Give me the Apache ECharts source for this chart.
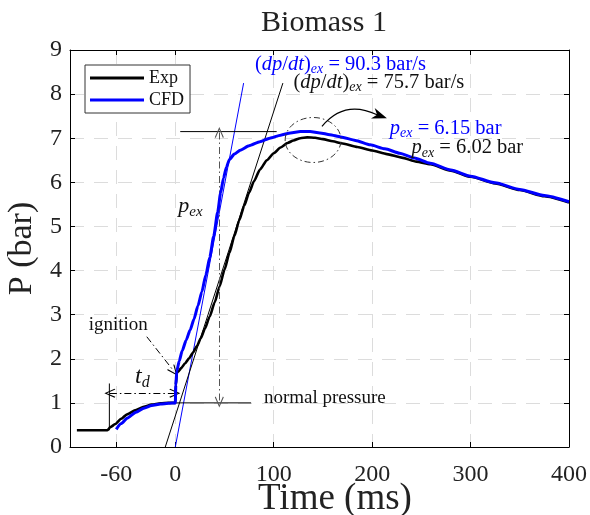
<!DOCTYPE html>
<html>
<head>
<meta charset="utf-8">
<script src="https://cdn.jsdelivr.net/npm/echarts@6/dist/echarts.min.js"></script>
<style>
  html, body { margin: 0; padding: 0; background: #fff; }
  #chart { width: 590px; height: 515px; }
</style>
</head>
<body>
<div id="chart"></div>
<script>
const SERIF = '"Liberation Serif", "DejaVu Serif", serif'

// measured pressure (Exp)
const expTime = [-100, -69, -66, -61, -55, -49, -40, -32, -24, -15, -7, 0, 0.5, 1.5, 3, 6, 10, 14, 18, 22, 26, 30, 35, 40, 45, 50, 55, 60, 65, 70, 75, 80, 86, 93, 100, 107, 114, 120, 127, 134, 142, 150, 160, 170, 185, 200, 215, 230, 245, 259, 280, 300, 325, 350, 375, 400]
const expP = [0.38, 0.38, 0.45, 0.52, 0.64, 0.74, 0.84, 0.91, 0.96, 0.99, 1.0, 1.0, 1.4, 1.68, 1.71, 1.79, 1.9, 2.01, 2.14, 2.29, 2.47, 2.68, 2.96, 3.28, 3.64, 4.02, 4.4, 4.78, 5.14, 5.47, 5.77, 6.03, 6.29, 6.5, 6.66, 6.79, 6.89, 6.95, 7.0, 7.02, 7.01, 6.98, 6.93, 6.88, 6.8, 6.72, 6.64, 6.56, 6.47, 6.41, 6.265, 6.125, 5.975, 5.825, 5.685, 5.545]

// simulated pressure (CFD)
const cfdTime = [-60, -55, -49, -40, -32, -24, -15, -7, 0, 0.5, 1.5, 4, 7, 11, 15, 19, 23, 27, 31, 35, 39, 43, 46, 49, 52, 55, 60, 66, 75, 86, 96, 107, 117, 127, 137, 147, 157, 168, 183, 198, 213, 228, 243, 259, 280, 300, 325, 350, 375, 400]
const cfdP = [0.4, 0.53, 0.65, 0.79, 0.88, 0.94, 0.975, 0.99, 1.0, 1.4, 1.72, 1.95, 2.18, 2.42, 2.65, 2.9, 3.2, 3.52, 3.9, 4.3, 4.78, 5.32, 5.76, 6.1, 6.35, 6.52, 6.64, 6.73, 6.83, 6.92, 7.0, 7.07, 7.12, 7.15, 7.15, 7.12, 7.08, 7.03, 6.95, 6.85, 6.76, 6.66, 6.55, 6.43, 6.28, 6.14, 5.99, 5.84, 5.7, 5.56]

// max-slope tangents
const cfdTangentT = [0, 69.4]
const cfdTangentP = [0, 8.25]
const expTangentT = [-10.2, 109.3]
const expTangentP = [0, 8.25]

const xTicks = [-60, 0, 100, 200, 300, 400]
const xMin = -107
const xMax = 400
const yMax = 9

const pairs = (xs, ys) => xs.map((x, i) => [x, ys[i]])

// open arrow head
const VEE = 'path://M0,10 L5,0 L10,10 L9,10.8 L5,2.4 L1,10.8 Z'

const seg = (name, t, p, color) => ({
  name,
  type: 'line',
  data: pairs(t, p),
  symbol: 'none',
  silent: true,
  lineStyle: { color, width: 1 },
  z: 3,
})

const boxAxisLine = { show: true, onZero: false, lineStyle: { color: '#000', width: 1 } }
const gridDash = { show: true, lineStyle: { color: '#dcdcdc', type: [14, 10], width: 1 } }

const chart = echarts.init(document.getElementById('chart'))

const option = {
  animation: false,
  backgroundColor: '#fff',
  title: {
    text: 'Biomass 1',
    left: 319,
    top: 3,
    textAlign: 'center',
    textStyle: { fontFamily: SERIF, fontSize: 30, fontWeight: 'normal', color: '#222' },
  },
  grid: { left: 70, right: 21, top: 50, bottom: 68, outerBoundsMode: 'none', containLabel: false },
  legend: {
    data: ['Exp', 'CFD'],
    orient: 'vertical',
    left: 85,
    top: 65,
    icon: 'rect',
    itemWidth: 54,
    itemHeight: 3,
    itemGap: 4,
    padding: [4, 6, 4, 5],
    backgroundColor: '#fff',
    borderColor: '#333',
    borderWidth: 1,
    textStyle: { fontFamily: SERIF, fontSize: 18, color: '#111' },
  },
  xAxis: [
    {
      type: 'value',
      min: xMin,
      max: xMax,
      axisLine: boxAxisLine,
      axisTick: { inside: true, length: 5, customValues: xTicks, lineStyle: { color: '#000' } },
      axisLabel: { customValues: xTicks, margin: 16, fontFamily: SERIF, fontSize: 24, color: '#222' },
      splitLine: gridDash,
    },
    {
      type: 'value',
      position: 'top',
      min: xMin,
      max: xMax,
      axisLine: boxAxisLine,
      axisTick: { inside: true, length: 5, customValues: xTicks, lineStyle: { color: '#000' } },
      axisLabel: { show: false },
      splitLine: { show: false },
    },
  ],
  yAxis: [
    {
      type: 'value',
      min: 0,
      max: yMax,
      interval: 1,
      name: 'P (bar)',
      nameLocation: 'middle',
      nameGap: 28,
      nameTextStyle: { fontFamily: SERIF, fontSize: 34, color: '#222' },
      axisLine: boxAxisLine,
      axisTick: { show: true, inside: true, length: 5, lineStyle: { color: '#000' } },
      axisLabel: { margin: 8, fontFamily: SERIF, fontSize: 24, color: '#222' },
      splitLine: gridDash,
    },
    {
      type: 'value',
      position: 'right',
      min: 0,
      max: yMax,
      interval: 1,
      axisLine: boxAxisLine,
      axisTick: { show: true, inside: true, length: 5, lineStyle: { color: '#000' } },
      axisLabel: { show: false },
      splitLine: { show: false },
    },
  ],
  series: [
    {
      name: 'Exp',
      type: 'line',
      data: pairs(expTime, expP),
      symbol: 'none',
      smooth: 0.2,
      smoothMonotone: 'x',
      color: '#000',
      lineStyle: { color: '#000', width: 2.6 },
      z: 4,
    },
    {
      name: 'CFD',
      type: 'line',
      data: pairs(cfdTime, cfdP),
      symbol: 'none',
      smooth: 0.2,
      smoothMonotone: 'x',
      color: '#0000ff',
      lineStyle: { color: '#0000ff', width: 3 },
      z: 5,
    },
    seg('cfdTangent', cfdTangentT, cfdTangentP, '#0000ff'),
    {
      ...seg('expTangent', expTangentT, expTangentP, '#000'),
      markLine: {
        silent: true,
        animation: false,
        symbol: ['none', VEE],
        symbolSize: [9, 11],
        label: { show: false },
        lineStyle: { type: [7, 3, 1.5, 3], color: '#000', width: 1 },
        data: [
          // ignition pointer
          [{ coord: [-29, 2.5] }, { coord: [-1.5, 1.72] }],
          // ignition delay t_d
          [{ coord: [-66.5, 1.22], symbol: VEE }, { coord: [-0.5, 1.22] }],
          // explosion overpressure
          [{ coord: [44.7, 7.13], symbol: VEE, lineStyle: { color: '#555' } }, { coord: [44.7, 1.02] }],
        ],
      },
    },
    seg('pexLine', [5, 103], [7.15, 7.15], '#000'),
    seg('normalLine', [0, 77], [1.0, 1.0], '#000'),
    seg('tdLine', [-67, -67], [0.38, 1.44], '#000'),
  ],
}

chart.setOption(option)

const px = (t, p) => chart.convertToPixel({ gridIndex: 0 }, [t, p])

const mathRich = (size, color) => ({
  r: { fontSize: size, fontFamily: SERIF, fill: color },
  i: { fontSize: size, fontFamily: SERIF, fontStyle: 'italic', fill: color },
  s: { fontSize: Math.round(size * 0.68), fontFamily: SERIF, fontStyle: 'italic', fill: color, padding: [Math.round(size * 0.5), 0, 0, 0] },
})

const label = (t, p, text, size, color, rich) => {
  const [x, y] = px(t, p)
  return {
    type: 'text',
    x,
    y,
    z: 100,
    style: {
      text,
      fontFamily: SERIF,
      fontSize: size,
      fill: color,
      verticalAlign: 'middle',
      align: 'left',
      rich: rich || mathRich(size, color),
    },
  }
}

// dash-dot circle around the peaks
const [cx, cy] = px(140, 6.96)
const [ex, ey] = px(140 + 28.4, 6.96 + 0.51)

// curved arrow from the circle to the labels
const a0 = px(149, 7.27)
const a1 = px(178, 7.75)
const a2 = px(215, 7.45)
const dx = a2[0] - a1[0]
const dy = a2[1] - a1[1]
const len = Math.hypot(dx, dy)
const ux = dx / len
const uy = dy / len
const headLen = 15
const headW = 5.5
const base = [a2[0] - ux * headLen, a2[1] - uy * headLen]
const notch = [a2[0] - ux * headLen * 0.7, a2[1] - uy * headLen * 0.7]

// x axis title sits a bit right of the plot centre, as in the source figure
const [, axisBottom] = px(0, 0)

chart.setOption({
  graphic: [
    {
      type: 'text',
      x: 335,
      y: axisBottom + 52,
      z: 100,
      style: {
        text: 'Time (ms)',
        fontFamily: SERIF,
        fontSize: 37,
        fill: '#222',
        align: 'center',
        verticalAlign: 'middle',
      },
    },
    {
      type: 'ellipse',
      z: 100,
      shape: { cx, cy, rx: Math.abs(ex - cx), ry: Math.abs(ey - cy) },
      style: { fill: 'none', stroke: '#333', lineWidth: 1, lineDash: [6, 3, 1.5, 3] },
    },
    {
      type: 'bezierCurve',
      z: 100,
      shape: { x1: a0[0], y1: a0[1], cpx1: a1[0] - 6, cpy1: a1[1] - 6, x2: notch[0], y2: notch[1] },
      style: { fill: 'none', stroke: '#000', lineWidth: 1.2 },
    },
    {
      type: 'polygon',
      z: 100,
      shape: {
        points: [
          a2,
          [base[0] - uy * headW, base[1] + ux * headW],
          notch,
          [base[0] + uy * headW, base[1] - ux * headW],
        ],
      },
      style: { fill: '#000' },
    },
    label(81, 8.68, '{r|(}{i|dp}{r|/}{i|dt}{r|)}{s|ex}{r| = 90.3 bar/s}', 20.5, '#0000ff'),
    label(120, 8.27, '{r|(}{i|dp}{r|/}{i|dt}{r|)}{s|ex}{r| = 75.7 bar/s}', 20.5, '#111'),
    label(218, 7.22, '{i|p}{s|ex}{r| = 6.15 bar}', 20.5, '#0000ff'),
    label(240, 6.78, '{i|p}{s|ex}{r| = 6.02 bar}', 20.5, '#111'),
    label(3, 5.45, '{i|p}{s|ex}', 22, '#111'),
    label(-41, 1.6, '{i|t}{s|d}', 24, '#111'),
    label(-88, 2.77, '{r|ignition}', 19, '#111'),
    label(90, 1.1, '{r|normal pressure}', 19, '#111'),
  ],
})

window.addEventListener('resize', () => {
  chart.resize()
})
</script>
</body>
</html>
